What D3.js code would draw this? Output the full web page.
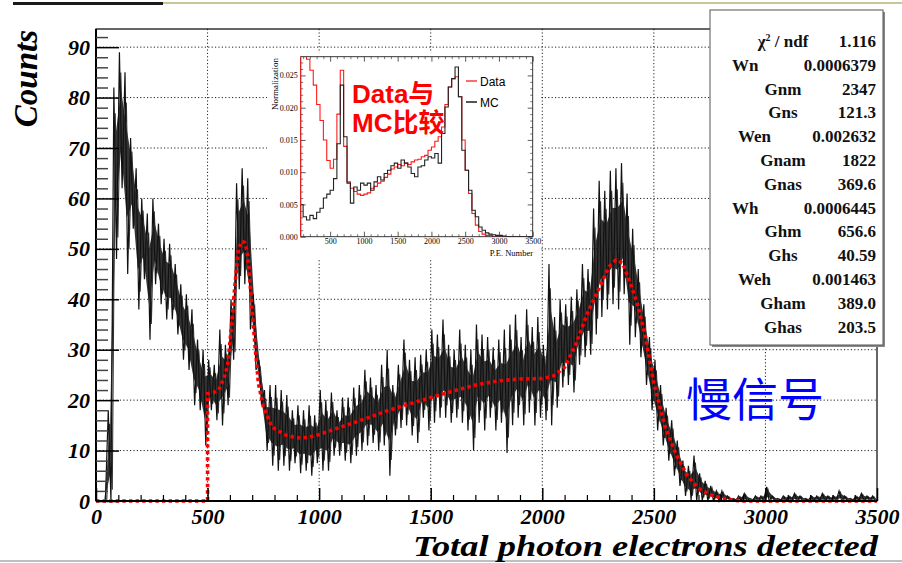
<!DOCTYPE html>
<html><head><meta charset="utf-8">
<script src="https://cdn.jsdelivr.net/npm/d3@7"></script>
<style>body{margin:0;background:#fff} svg{display:block}</style>
</head><body>
<script>
// ---------------- DATA ----------------
const xTicks = [0,500,1000,1500,2000,2500,3000,3500];
const yTicks = [0,10,20,30,40,50,60,70,80,90];
const histBinWidth = 25;           // counts histogram, bins start at 0
// upper / lower extent of the noisy histogram in each 25-p.e. slice
const histHi = [
0,0,18,82,89,85,72,66,60,57,
60,55,52,51,47,43,41,38,32,30,
28,27,34,31,40,63,66,64,41,28,
22,23,23,22,21,18,19,18,19,17,
22,20,21.5,18,20.5,20.5,22.5,23,26,24.5,
23,27,30,23,27,32,28,28.5,29,30,
34,33,36,31,30,34,31,30,35,33,
32.5,30.5,32,34,35,37,32.5,38,34.5,36.5,
31,47,36.5,40,39,40.5,42,47,46,58,
63.5,61.5,65.5,66,67,61,54,46,39,32.5,
28,23,18.5,16,12,8,7,9,5.5,4,
3,2,2,1,0.5,1,1.5,0.5,1,1,
2.8,1,0.5,1,1,1.5,1,0.5,1,1,
1.5,1,1,2,1,0.5,1,1.5,1,1];
const histLo = [
0,0,0,48,62,45,54,38,44,32,
43,39,36,36,33,28,26,19,18,11,
18,16,15,19,28,42,43,34,26,19,
10,7,6,7,6,7.5,5.5,6,5,7.5,
6,6,9,9,8,7.5,9,10,11,11.5,
10,11,5,13,14.5,15,13,11.5,16.5,14,
15.5,16.5,16.5,15.5,16.5,15.5,14,10,15.5,14,
16.5,14,15.5,9.5,15,16.5,15,17.5,15,16.5,
16,15,18.5,22.5,23,21.5,27,28.5,29,33,
36.5,38,39,38,41,31,32.5,28.5,23,18,
14,11,8,5,3,1,0.2,0,0,0,
0,0,0,0,0,0,0,0,0,0,
0,0,0,0,0,0,0,0,0,0,
0,0,0,0,0,0,0,0,0,0];
// fit curve (x, counts)
const fitX = [0,500,500,525,550,575,590,608,623,638,653,665,676,686,698,713,728,750,788,848,900,950,1000,1100,1200,1300,1400,1500,1600,1700,1800,1900,2000,2050,2100,2150,2200,2250,2300,2330,2360,2400,2430,2460,2500,2550,2600,2650,2700,2750,2800,2850,2900,3500];
const fitY = [0,0,21.3,21.5,22,24.5,27,35,43,49.8,51.5,51.3,49.8,45.8,38.6,30.6,23.3,18.7,14.7,13.1,12.5,12.6,13.2,14.7,16.2,17.8,19.2,20.5,21.8,23,23.8,24.2,24.3,24.8,26.5,31,37,41.8,46.5,47.8,47.2,42.5,38.5,33,23.3,14.8,9.2,5,2.5,1.3,0.6,0.2,0,0];

// inset: normalized spectra, 50 p.e. bins starting at 50
const insetBinStart = 50, insetBinWidth = 50;
const insetData = [0.030,0.030,0.0275,0.0258,0.0235,0.0205,0.0180,0.0150,0.0118,0.0106,
0.0120,0.0190,0.0258,0.0140,0.0085,0.0075,0.0070,0.0066,0.0064,0.0066,
0.0068,0.0075,0.0078,0.0083,0.0086,0.0092,0.0097,0.0105,0.0108,0.0112,
0.0110,0.0114,0.0112,0.0116,0.0119,0.0120,0.0124,0.0126,0.0134,0.0139,
0.0148,0.0155,0.0170,0.0205,0.0232,0.0245,0.0248,0.0217,0.0150,0.0103,
0.0067,0.0036,0.0018,0.0008,0.0004,0.0002,0.0002,0,0,0,
0,0,0,0,0,0,0,0,0];
const insetMC = [0.0050,0.0031,0.0026,0.0033,0.0028,0.0038,0.0044,0.0060,0.0066,0.0072,
0.0090,0.0144,0.0235,0.0155,0.0083,0.0052,0.0077,0.0072,0.0083,0.0080,
0.0083,0.0072,0.0085,0.0093,0.0088,0.0098,0.0103,0.0110,0.0114,0.0106,
0.0119,0.0114,0.0108,0.0098,0.0093,0.0108,0.0110,0.0119,0.0124,0.0122,
0.0129,0.0114,0.0160,0.0201,0.0232,0.0245,0.0263,0.0217,0.0134,0.0103,
0.0072,0.0041,0.0031,0.0015,0.0010,0.0006,0.0004,0.0003,0.0002,0.0002,
0.0001,0,0,0,0,0,0,0,0];
const insetXTicks = [500,1000,1500,2000,2500,3000,3500];
const insetYTicks = [0,0.005,0.010,0.015,0.020,0.025];

const statNames = ["χ2 / ndf","Wn","Gnm","Gns","Wen","Gnam","Gnas","Wh","Ghm","Ghs","Weh","Gham","Ghas"];
const statValues = ["1.116","0.0006379","2347","121.3","0.002632","1822","369.6","0.0006445","656.6","40.59","0.001463","389.0","203.5"];

// ---------------- DRAW ----------------
const W = 902, H = 563;
const svg = d3.select("body").append("svg").attr("width", W).attr("height", H);
svg.append("rect").attr("width", W).attr("height", H).attr("fill", "#fff");

// slide decorations
svg.append("line").attr("x1",160).attr("x2",W).attr("y1",3).attr("y2",3).attr("stroke","#b3b374").attr("stroke-width",1.5);
svg.append("rect").attr("x",13).attr("y",2).attr("width",150).attr("height",3).attr("fill","#1a1a1a");
svg.append("line").attr("x1",0).attr("x2",W).attr("y1",561).attr("y2",561).attr("stroke","#aaa").attr("stroke-width",1.5);

const M = {l:96, r:877, t:29, b:501};
const x = d3.scaleLinear().domain([0,3500]).range([M.l, M.r]);
const y = d3.scaleLinear().domain([0,93.6]).range([M.b, M.t]);

const defs = svg.append("defs");
defs.append("clipPath").attr("id","plotclip").append("rect")
  .attr("x",M.l).attr("y",M.t).attr("width",M.r-M.l).attr("height",M.b-M.t+2);

// grid
const grid = svg.append("g").attr("stroke","#222").attr("stroke-width",1).attr("stroke-dasharray","1.2,2.2");
grid.selectAll("line.gx").data(xTicks.filter(v => v > 0 && v < 3500)).join("line")
  .attr("x1", d => x(d)).attr("x2", d => x(d)).attr("y1", M.t).attr("y2", M.b);
grid.selectAll("line.gy").data(yTicks.filter(v => v > 0)).join("line")
  .attr("x1", M.l).attr("x2", M.r).attr("y1", d => y(d)).attr("y2", d => y(d));

// histogram
const plot = svg.append("g").attr("clip-path","url(#plotclip)");
const bins = histHi.map((h,i) => ({x0: i*histBinWidth, hi: h, lo: histLo[i]}));
const core = d3.area().x(d => x(d.x0 + histBinWidth/2))
  .y0(d => y(d.lo + (d.hi-d.lo)*0.28)).y1(d => y(d.hi - (d.hi-d.lo)*0.28)).curve(d3.curveLinear);
plot.append("path").datum(bins).attr("d", core).attr("fill","#111").attr("fill-opacity",0.85);
const zz1 = [];
bins.forEach(b => { zz1.push([b.x0 + 5, b.hi]); zz1.push([b.x0 + 17, b.lo]); });
const zz2 = [];
bins.forEach(b => { const m=(b.hi+b.lo)/2, r=(b.hi-b.lo)/2;
  zz2.push([b.x0 + 11, m + r*0.7]); zz2.push([b.x0 + 23, m - r*0.75]); });
const zline = d3.line().x(d => x(d[0])).y(d => y(d[1]));
plot.append("path").attr("d", zline(zz2)).attr("fill","none").attr("stroke","#333").attr("stroke-width",1.1);
plot.append("path").attr("d", zline(zz1)).attr("fill","none").attr("stroke","#111").attr("stroke-width",1.2);

// fit
const fitPts = fitX.map((v,i) => [v, fitY[i]]);
plot.append("path").attr("d", zline(fitPts)).attr("fill","none")
  .attr("stroke","#ff0000").attr("stroke-width",3.6).attr("stroke-dasharray","3.4,3.2");

// frame
svg.append("rect").attr("x",M.l).attr("y",M.t).attr("width",M.r-M.l).attr("height",M.b-M.t)
  .attr("fill","none").attr("stroke","#000").attr("stroke-width",1.2);
svg.append("line").attr("x1",M.l).attr("x2",M.l).attr("y1",M.t).attr("y2",M.b).attr("stroke","#000").attr("stroke-width",2);
svg.append("line").attr("x1",M.l).attr("x2",M.r).attr("y1",M.b).attr("y2",M.b).attr("stroke","#000").attr("stroke-width",2);

// axes
const tickFont = g => g.selectAll("text").attr("font-family","'Liberation Serif','DejaVu Serif',serif")
  .attr("font-weight","bold").attr("font-style","italic").attr("font-size",22).attr("fill","#000");
const yMinor = d3.range(0, 93.6, 2).filter(v => v % 10 !== 0);
const xMinor = d3.range(0, 3500, 100).filter(v => v % 500 !== 0);

const ya = svg.append("g").attr("transform",`translate(${M.l},0)`)
  .call(d3.axisLeft(y).tickValues(yTicks).tickSize(-23).tickPadding(6).tickFormat(d3.format("d")));
ya.select(".domain").remove(); ya.selectAll("line").attr("stroke","#000").attr("stroke-width",1.5); tickFont(ya);
const yam = svg.append("g").attr("transform",`translate(${M.l},0)`)
  .call(d3.axisLeft(y).tickValues(yMinor).tickSize(-12).tickFormat(""));
yam.select(".domain").remove(); yam.selectAll("line").attr("stroke","#444").attr("stroke-width",1.5);

const xa = svg.append("g").attr("transform",`translate(0,${M.b})`)
  .call(d3.axisBottom(x).tickValues(xTicks).tickSize(-13).tickPadding(7).tickFormat(d3.format("d")));
xa.select(".domain").remove(); xa.selectAll("line").attr("stroke","#000").attr("stroke-width",1.5); tickFont(xa);
const xam = svg.append("g").attr("transform",`translate(0,${M.b})`)
  .call(d3.axisBottom(x).tickValues(xMinor).tickSize(-6).tickFormat(""));
xam.select(".domain").remove(); xam.selectAll("line").attr("stroke","#000").attr("stroke-width",1.2);

// axis titles
svg.append("text").attr("transform","translate(37,30) rotate(-90)").attr("text-anchor","end")
  .attr("font-family","'Liberation Serif',serif").attr("font-weight","bold").attr("font-style","italic")
  .attr("font-size",33).text("Counts");
svg.append("text").attr("x",413).attr("y",556).attr("text-anchor","start")
  .attr("font-family","'Liberation Serif',serif").attr("font-weight","bold").attr("font-style","italic")
  .attr("font-size",30).attr("textLength",465).attr("lengthAdjust","spacingAndGlyphs")
  .text("Total photon electrons detected");

// ---------------- INSET ----------------
const ix = d3.scaleLinear().domain([64,3500]).range([300.7,532.7]);
const iy = d3.scaleLinear().domain([0,0.0279]).range([236.7,56.7]);
svg.append("rect").attr("x",267).attr("y",53).attr("width",273).attr("height",205).attr("fill","#fff");
defs.append("clipPath").attr("id","insetclip").append("rect")
  .attr("x",300.7).attr("y",56.7).attr("width",232).attr("height",180);
const ig = svg.append("g").attr("clip-path","url(#insetclip)");
const stepLine = d3.line().x(d => ix(d[0])).y(d => iy(d[1])).curve(d3.curveStepAfter);
const mkSteps = arr => { const p = [[insetBinStart, 0]];
  arr.forEach((v,i) => p.push([insetBinStart + i*insetBinWidth, v]));
  p.push([insetBinStart + arr.length*insetBinWidth, arr[arr.length-1]]); return p; };
ig.append("path").attr("d", stepLine(mkSteps(insetData))).attr("fill","none").attr("stroke","#ff1a1a").attr("stroke-width",1.1);
ig.append("path").attr("d", stepLine(mkSteps(insetMC))).attr("fill","none").attr("stroke","#222").attr("stroke-width",1.1);

const iFont = g => g.selectAll("text").attr("font-family","'Liberation Serif',serif").attr("font-size",8).attr("fill","#000");
const ixMinor = d3.range(100, 3500, 100).filter(v => v % 500 !== 0);
const iyMinor = d3.range(0.001, 0.0279, 0.001).filter(v => Math.abs(v*200 - Math.round(v*200)) > 1e-6);
const addAxis = (axis, tr, lineColor) => { const g = svg.append("g").attr("transform", tr).call(axis);
  g.select(".domain").remove(); g.selectAll("line").attr("stroke", lineColor).attr("stroke-width",0.8); iFont(g); return g; };
addAxis(d3.axisBottom(ix).tickValues(insetXTicks).tickSize(-5).tickPadding(2).tickFormat(d3.format("d")), "translate(0,236.7)", "#333");
addAxis(d3.axisBottom(ix).tickValues(ixMinor).tickSize(-2.5).tickFormat(""), "translate(0,236.7)", "#555");
addAxis(d3.axisTop(ix).tickValues(insetXTicks).tickSize(-5).tickFormat(""), "translate(0,56.7)", "#333");
addAxis(d3.axisTop(ix).tickValues(ixMinor).tickSize(-2.5).tickFormat(""), "translate(0,56.7)", "#555");
addAxis(d3.axisLeft(iy).tickValues(insetYTicks).tickSize(-5).tickPadding(3).tickFormat(d3.format(".3f")), "translate(300.7,0)", "#333");
addAxis(d3.axisLeft(iy).tickValues(iyMinor).tickSize(-2.5).tickFormat(""), "translate(300.7,0)", "#555");
addAxis(d3.axisRight(iy).tickValues(insetYTicks).tickSize(-5).tickFormat(""), "translate(532.7,0)", "#333");
addAxis(d3.axisRight(iy).tickValues(iyMinor).tickSize(-2.5).tickFormat(""), "translate(532.7,0)", "#555");
svg.append("rect").attr("x",300.7).attr("y",56.7).attr("width",232).attr("height",180)
  .attr("fill","none").attr("stroke","#222").attr("stroke-width",0.9);
svg.append("line").attr("x1",300.7).attr("x2",300.7).attr("y1",56.7).attr("y2",236.7).attr("stroke","#ff1a1a").attr("stroke-width",1);

svg.append("text").attr("transform","translate(278,58) rotate(-90)").attr("text-anchor","end")
  .attr("font-family","'Liberation Serif',serif").attr("font-size",9).text("Normalization");
svg.append("text").attr("x",533).attr("y",255.5).attr("text-anchor","end")
  .attr("font-family","'Liberation Serif',serif").attr("font-size",8.5).text("P.E. Number");

// inset legend
const legend = [{name:"Data", color:"#ff6b6b", y:81}, {name:"MC", color:"#555", y:102}];
legend.forEach(l => {
  svg.append("line").attr("x1",466).attr("x2",477).attr("y1",l.y).attr("y2",l.y).attr("stroke",l.color).attr("stroke-width",2);
  svg.append("text").attr("x",480).attr("y",l.y+4.5).attr("font-family","'Liberation Sans',Arial,sans-serif")
    .attr("font-size",12).text(l.name);
});

// red annotation
const ann = svg.append("text").attr("font-family","'Liberation Sans','Noto Sans CJK SC',sans-serif")
  .attr("font-weight","bold").attr("font-size",26).attr("fill","#ff0000");
ann.append("tspan").attr("x",352).attr("y",103).text("Data与");
ann.append("tspan").attr("x",352).attr("y",132).text("MC比较");

// blue annotation
svg.append("text").attr("x",686).attr("y",416).attr("font-family","'Noto Sans CJK SC',sans-serif")
  .attr("font-size",46).attr("fill","#0000ff").text("慢信号");

// ---------------- STATS BOX ----------------
svg.append("rect").attr("x",712).attr("y",12).attr("width",173).attr("height",335).attr("fill","#888");
svg.append("rect").attr("x",710).attr("y",10).attr("width",173).attr("height",335)
  .attr("fill","#fff").attr("stroke","#555").attr("stroke-width",1);
const st = svg.append("g").attr("font-family","'Liberation Serif',serif").attr("font-weight","bold").attr("font-size",17).attr("fill","#111");
statNames.forEach((n,i) => {
  const yy = 47 + i*23.8;
  const isW = n.startsWith("W");
  const t = st.append("text").attr("y", yy).attr("x", isW ? (n.length > 2 ? 738 : 732) : 783)
    .attr("text-anchor", isW ? "start" : "middle");
  if (n.startsWith("χ2")) {
    t.append("tspan").text("χ");
    t.append("tspan").attr("font-size",10).attr("dy",-6).text("2");
    t.append("tspan").attr("dy",6).text(n.slice(2));
  } else t.text(n);
  st.append("text").attr("x",876).attr("y",yy).attr("text-anchor","end").text(statValues[i]);
});
</script>
</body></html>
